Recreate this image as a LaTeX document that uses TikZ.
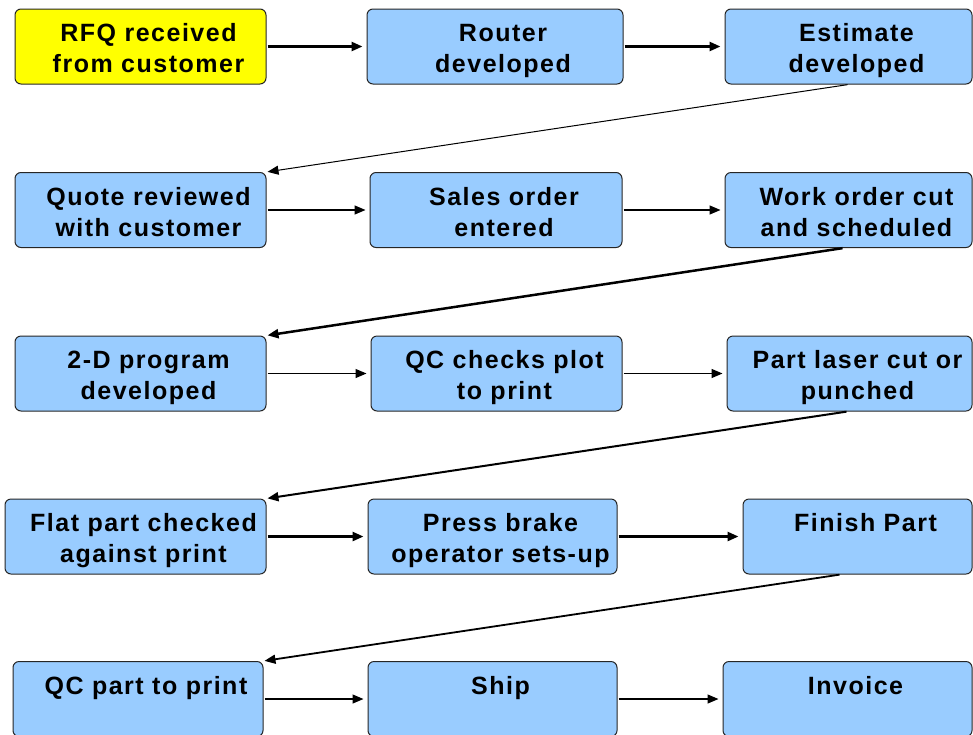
\documentclass[tikz,border=0pt]{standalone}
\usepackage{fontspec}
\usepackage{xcolor}
\usepackage{tikz}
\usetikzlibrary{arrows.meta}

\newfontfamily\boxfont{Liberation Sans}[LetterSpace=6]
\definecolor{boxblue}{HTML}{99CCFF}
\definecolor{boxyellow}{HTML}{FFFF00}
\newcommand{\steplines}[1]{\hspace*{16pt}\begin{tabular}[t]{@{}c@{}}#1\end{tabular}}

\begin{document}
\begin{tikzpicture}[
    x=1pt, y=-1pt,
    stepbox/.style={rectangle, rounded corners=6pt, draw=black!85, line width=1pt, fill=boxblue, minimum width=251pt, minimum height=75pt, inner sep=0pt, text height=21pt, text depth=31pt, font=\boxfont\bfseries\fontsize{25}{31}\selectfont},
    startbox/.style={stepbox, fill=boxyellow},
    arrow/.style={line width=1.3pt, -{Triangle[length=11pt, width=9pt]}, shorten >=4pt, shorten <=1pt},
    boldarrow/.style={arrow, line width=2.5pt}
]
\useasboundingbox (0,0) rectangle (973,734);
\clip (0,0) rectangle (973,734);

% Nodes
\node (rfq)    [startbox] at (140.5,46.5) {\steplines{RFQ received\\from customer}};
\node (router) [stepbox, minimum width=256pt] at (495,46.5) {\steplines{Router\\developed}};
\node (est)    [stepbox, minimum width=247pt] at (848.5,46.5) {\steplines{Estimate\\developed}};

\node (quote)  [stepbox] at (140.5,210) {\steplines{Quote reviewed\\with customer}};
\node (sales)  [stepbox, minimum width=252pt] at (496,210) {\steplines{Sales order\\entered}};
\node (work)   [stepbox, minimum width=247pt] at (848.5,210) {\steplines{Work order cut\\and scheduled}};

\node (prog)   [stepbox] at (140.5,373.5) {\steplines{2-D program\\developed}};
\node (qcplot) [stepbox] at (496.5,373.5) {\steplines{QC checks plot\\to print}};
\node (laser)  [stepbox, minimum width=245pt] at (849.5,373.5) {\steplines{Part laser cut or\\punched}};

\node (flat)   [stepbox, minimum width=261pt] at (135.5,536.5) {\steplines{Flat part checked\\against print}};
\node (brake)  [stepbox, minimum width=249pt] at (492.5,536.5) {\steplines{Press brake\\operator sets-up}};
\node (finish) [stepbox, minimum width=229pt] at (857.5,536.5) {\steplines{Finish Part}};

\node (qcpart) [stepbox, minimum width=250pt] at (138,699) {\steplines{QC part to print}};
\node (ship)   [stepbox, minimum width=249pt] at (492.5,699) {\steplines{Ship}};
\node (inv)    [stepbox, minimum width=249pt] at (847.5,699) {\steplines{Invoice}};

% Connections
\draw [boldarrow] (rfq) -- (router);
\draw [boldarrow] (router) -- (est);
\draw [arrow, line width=1pt, shorten >=1pt] (est.south) -- (quote.north east);

\draw [arrow] (quote) -- (sales);
\draw [arrow] (sales) -- (work);
\draw [boldarrow, shorten >=1pt] ([xshift=-5pt]work.south) -- (prog.north east);

\draw [arrow] (prog) -- (qcplot);
\draw [arrow] (qcplot) -- (laser);
\draw [arrow, line width=2pt, shorten >=1pt] ([xshift=-2pt]laser.south) -- (flat.north east);

\draw [boldarrow] (flat) -- (brake);
\draw [boldarrow] (brake) -- (finish);
\draw [arrow, line width=1.8pt, shorten >=1pt] ([xshift=-17pt]finish.south) -- (qcpart.north east);

\draw [arrow] (qcpart) -- (ship);
\draw [arrow] (ship) -- (inv);

\end{tikzpicture}
\end{document}
